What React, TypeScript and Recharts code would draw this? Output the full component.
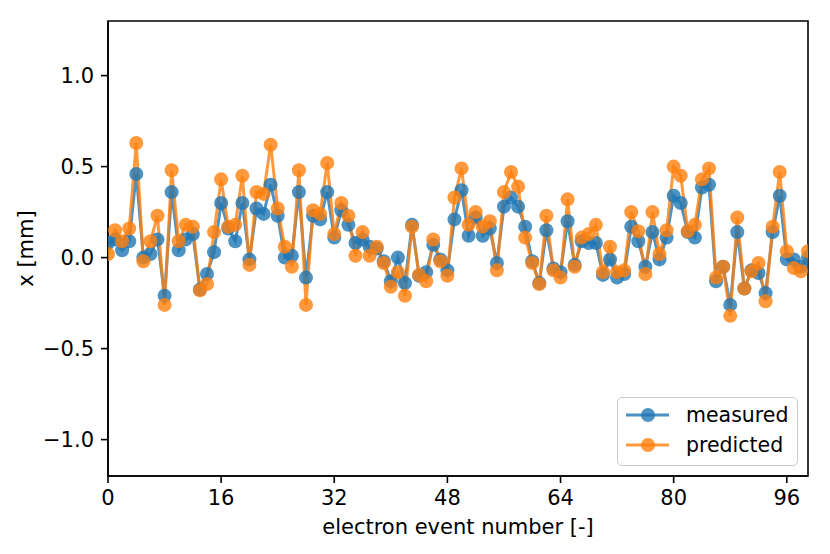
import React from "react";
import {
  LineChart,
  Line,
  XAxis,
  YAxis,
  Label,
  ReferenceArea,
} from "recharts";

// values, one per electron event (0..99)
const measured = [
  0.08, 0.1, 0.04, 0.09, 0.46, 0.0, 0.02, 0.1, -0.21, 0.36,
  0.04, 0.1, 0.13, -0.175, -0.09, 0.03, 0.3, 0.16, 0.09, 0.3,
  -0.01, 0.27, 0.24, 0.4, 0.23, 0.0, 0.01, 0.36, -0.11, 0.23,
  0.21, 0.36, 0.11, 0.26, 0.18, 0.08, 0.1, 0.06, 0.05, -0.02,
  -0.13, 0.0, -0.14, 0.18, -0.1, -0.08, 0.07, -0.01, -0.07, 0.21,
  0.37, 0.12, 0.22, 0.12, 0.16, -0.03, 0.28, 0.33, 0.28, 0.17,
  -0.02, -0.14, 0.15, -0.06, -0.08, 0.2, -0.04, 0.09, 0.08, 0.08,
  -0.095, -0.01, -0.11, -0.09, 0.17, 0.09, -0.05, 0.14, -0.01, 0.11,
  0.34, 0.3, 0.14, 0.11, 0.385, 0.4, -0.13, -0.05, -0.26, 0.14,
  -0.17, -0.07, -0.085, -0.195, 0.14, 0.34, -0.01, -0.01, -0.05, 0.0,
];

const predicted = [
  0.02, 0.15, 0.09, 0.16, 0.63, -0.02, 0.09, 0.23, -0.26, 0.48,
  0.09, 0.18, 0.17, -0.18, -0.145, 0.14, 0.43, 0.17, 0.18, 0.45,
  -0.04, 0.36, 0.35, 0.62, 0.27, 0.06, -0.05, 0.48, -0.26, 0.26,
  0.24, 0.52, 0.13, 0.3, 0.23, 0.01, 0.14, 0.01, 0.06, -0.03,
  -0.16, -0.08, -0.21, 0.17, -0.095, -0.13, 0.1, -0.02, -0.1, 0.33,
  0.49, 0.18, 0.25, 0.17, 0.2, -0.07, 0.36, 0.47, 0.39, 0.11,
  -0.03, -0.145, 0.23, -0.07, -0.11, 0.32, -0.05, 0.11, 0.13, 0.18,
  -0.08, 0.06, -0.08, -0.07, 0.25, 0.145, -0.09, 0.25, 0.02, 0.15,
  0.5, 0.45, 0.145, 0.18, 0.43, 0.49, -0.11, -0.05, -0.32, 0.22,
  -0.17, -0.075, -0.03, -0.24, 0.17, 0.47, 0.035, -0.057, -0.075, 0.035,
];

const xTicks = [0, 16, 32, 48, 64, 80, 96];
const yTicks = [-1.0, -0.5, 0.0, 0.5, 1.0];

const BLUE = "#1f77b4";
const ORANGE = "#ff7f0e";
const FONT = "'DejaVu Sans', sans-serif";
const FS = 21;

const data = measured.map((m, i) => ({
  event: i,
  measured: m,
  predicted: predicted[i],
}));

const fmtY = (v: number) =>
  v < 0 ? "\u2212" + Math.abs(v).toFixed(1) : v.toFixed(1);

const axisStroke = { stroke: "#000", strokeWidth: 1.6 };

const LegendRow = ({ color, text, top }: { color: string; text: string; top: number }) => (
  <div
    style={{
      position: "absolute",
      left: 0,
      top,
      height: 24,
      display: "flex",
      alignItems: "center",
    }}
  >
    <svg width={60} height={24} style={{ display: "block" }}>
      <line x1={8} y1={12} x2={51} y2={12} stroke={color} strokeOpacity={0.8} strokeWidth={3} />
      <circle cx={30} cy={12} r={7} fill={color} fillOpacity={0.8} />
    </svg>
    <span style={{ marginLeft: 8, lineHeight: "24px" }}>{text}</span>
  </div>
);

export default function App() {
  return (
    <div
      style={{
        position: "absolute",
        left: 0,
        top: 0,
        width: 830,
        height: 554,
        background: "#fff",
        fontFamily: FONT,
      }}
    >
      <LineChart
        width={830}
        height={554}
        data={data}
        margin={{ top: 21, right: 22, bottom: 18, left: 48 }}
        style={{ fontFamily: FONT }}
      >
        <XAxis
          dataKey="event"
          type="number"
          domain={[0, 99]}
          ticks={xTicks}
          allowDataOverflow
          height={60}
          tickSize={7}
          tickMargin={7}
          axisLine={axisStroke}
          tickLine={axisStroke}
          tick={{ fill: "#000", fontSize: FS }}
          label={{
            value: "electron event number [-]",
            position: "insideBottom",
            offset: 2,
            fill: "#000",
            fontSize: FS,
          }}
        />
        <YAxis
          type="number"
          domain={[-1.2, 1.3]}
          ticks={yTicks}
          allowDataOverflow
          width={60}
          tickSize={7}
          tickMargin={7}
          axisLine={axisStroke}
          tickLine={axisStroke}
          tick={{ fill: "#000", fontSize: FS }}
          tickFormatter={fmtY}
        >
          <Label
            content={() => (
              <text
                x={33}
                y={248.5}
                transform="rotate(-90 33 248.5)"
                textAnchor="middle"
                fontSize={FS}
                fill="#000"
              >
                x [mm]
              </text>
            )}
          />
        </YAxis>
        <Line
          type="linear"
          dataKey="measured"
          stroke={BLUE}
          strokeOpacity={0.8}
          strokeWidth={3}
          dot={{ r: 7, fill: BLUE, fillOpacity: 0.8, stroke: "none" }}
          activeDot={false}
          isAnimationActive={false}
        />
        <Line
          type="linear"
          dataKey="predicted"
          stroke={ORANGE}
          strokeOpacity={0.8}
          strokeWidth={3}
          dot={{ r: 7, fill: ORANGE, fillOpacity: 0.8, stroke: "none" }}
          activeDot={false}
          isAnimationActive={false}
        />
        <ReferenceArea
          x1={0}
          x2={99}
          y1={-1.2}
          y2={1.3}
          fill="none"
          fillOpacity={0}
          stroke="#000"
          strokeWidth={1.6}
        />
      </LineChart>
      <div
        style={{
          position: "absolute",
          left: 617,
          top: 397,
          width: 181,
          height: 69,
          border: "1.5px solid #cccccc",
          borderRadius: 5,
          background: "rgba(255,255,255,0.8)",
          boxSizing: "border-box",
          fontSize: 20.5,
          color: "#000",
        }}
      >
        <LegendRow color={BLUE} text="measured" top={5} />
        <LegendRow color={ORANGE} text="predicted" top={35} />
      </div>
    </div>
  );
}
